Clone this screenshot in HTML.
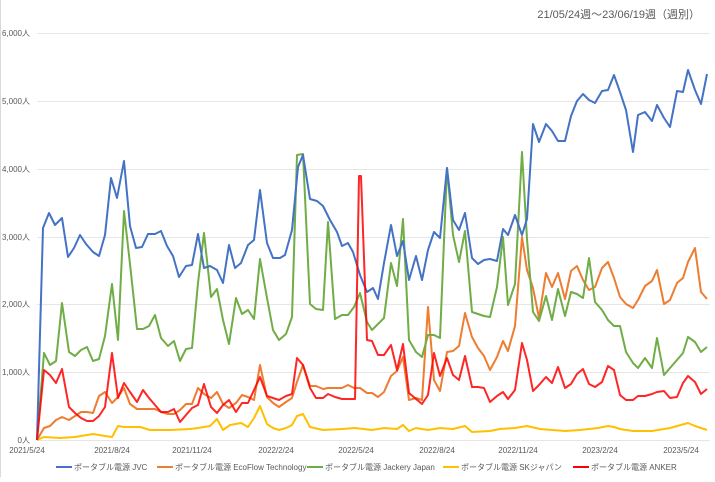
<!DOCTYPE html>
<html><head><meta charset="utf-8"><style>
body{margin:0;background:#fff;}
svg text{font-family:"Liberation Sans","Noto Sans CJK JP",sans-serif;fill:#595959;}
</style></head><body>
<svg width="715" height="477" viewBox="0 0 715 477" xmlns="http://www.w3.org/2000/svg">
<rect x="0" y="0" width="715" height="477" fill="#fff"/>
<line x1="0.5" y1="0" x2="0.5" y2="477" stroke="#d9d9d9"/>
<text x="700" y="18" font-size="11" text-anchor="end">21/05/24週～23/06/19週（週別）</text>
<g stroke="#e6e6e6" stroke-width="1">
<line x1="37" x2="710" y1="33.5" y2="33.5"/><line x1="37" x2="710" y1="101.5" y2="101.5"/>
<line x1="37" x2="710" y1="169.5" y2="169.5"/><line x1="37" x2="710" y1="237.5" y2="237.5"/>
<line x1="37" x2="710" y1="304.5" y2="304.5"/><line x1="37" x2="710" y1="372.5" y2="372.5"/>
<line x1="37" x2="710" y1="440.5" y2="440.5"/>
</g>
<g font-size="8" text-anchor="end">
<text x="30" y="36">6,000人</text><text x="30" y="104">5,000人</text><text x="30" y="172">4,000人</text>
<text x="30" y="240">3,000人</text><text x="30" y="307">2,000人</text><text x="30" y="375">1,000人</text><text x="30" y="443">0人</text>
</g>
<g font-size="8" text-anchor="middle">
<text x="27" y="453">2021/5/24</text><text x="112" y="453">2021/8/24</text><text x="192" y="453">2021/11/24</text>
<text x="276" y="453">2022/2/24</text><text x="356" y="453">2022/5/24</text><text x="437" y="453">2022/8/24</text>
<text x="518" y="453">2022/11/24</text><text x="600" y="453">2023/2/24</text><text x="681" y="453">2023/5/24</text>
</g>
<g fill="none" stroke-width="2" stroke-linejoin="round">
<polyline stroke="#FFC000" points="37,440 44,437 60,438 75,437 93,434 105,436 112,437 118,426 124,427 140,427 150,430 170,430 190,429 198,428 210,426 217,419 223,430 230,425 241,423 248,427 254,418 260,406 267,424 273,428 279,430 286,428 292,425 297,416 303,414 310,427 323,430 342,429 355,428 372,430 384,428 397,429 403,425 409,431 416,428 428,430 440,428 453,429 465,426 472,432 490,431 500,429 515,428 527,426 540,429 565,431 580,430 598,428 608,426 614,427 620,429 633,431 652,431 670,428 688,423 695,426 707,430"/>
<polyline stroke="#ED7D31" points="37,440 44,428 50,426 56,420 62,417 69,420 75,416 81,412 87,412 93,413 99,396 105,392 112,403 118,397 124,388 130,404 137,409 143,409 149,409 155,409 161,412 168,414 174,414 180,410 186,404 192,404 198,388 204,394 211,398 217,392 223,404 229,408 236,403 242,395 248,397 254,400 260,365 267,397 273,403 279,407 286,402 292,398 297,382 303,365 310,386 316,386 323,389 328,388 335,388 342,388 348,385 354,388 360,388 367,393 372,393 378,397 384,392 391,376 397,371 403,357 409,400 416,398 422,400 428,307 434,380 440,391 447,352 453,351 459,346 465,313 472,337 478,348 484,356 490,370 497,357 503,341 508,351 515,326 522,237 527,270 533,288 539,318 546,273 552,287 558,273 565,299 571,271 577,266 583,280 589,290 595,287 602,268 608,262 614,278 620,297 626,304 633,308 638,300 645,286 652,281 657,270 664,304 670,300 677,283 683,278 688,262 695,248 701,292 707,299"/>
<polyline stroke="#70AD47" points="37,440 44,353 50,365 56,361 62,303 69,352 75,356 81,350 87,347 93,361 99,359 105,336 112,284 118,340 124,211 130,264 137,329 143,329 149,326 155,315 161,338 168,346 174,341 180,361 186,349 192,348 198,283 204,233 211,297 217,289 223,320 229,344 236,298 242,314 248,310 254,319 260,259 267,298 273,330 279,340 286,334 292,317 297,155 303,154 310,304 316,309 323,310 328,222 335,319 342,315 348,315 354,307 360,293 367,322 372,330 378,324 384,318 391,263 397,286 403,219 409,340 416,352 422,357 428,335 434,335 440,338 447,168 453,235 459,262 465,231 472,312 478,314 484,316 490,317 497,287 503,237 508,305 515,284 522,152 527,239 533,312 539,321 546,296 552,320 558,289 565,316 571,292 577,294 583,298 589,258 595,302 602,310 608,320 614,326 620,326 626,352 633,363 638,368 645,358 652,368 657,338 664,375 670,368 677,360 683,353 688,337 695,342 701,352 707,347"/>
<polyline stroke="#4472C4" points="37,440 43,228 49,213 55,225 62,218 68,257 74,248 80,235 86,244 93,252 99,256 105,235 111,178 117,198 124,161 130,226 136,248 142,247 148,234 155,234 161,231 167,246 173,256 179,277 186,266 192,265 198,234 204,268 210,266 217,270 223,283 229,245 235,268 241,263 248,245 254,240 260,190 267,243 273,258 280,258 285,255 292,230 298,167 303,155 310,199 317,201 323,206 330,220 337,232 342,246 348,243 353,252 360,275 367,292 373,288 378,299 384,263 391,225 397,256 403,241 409,280 416,256 422,280 428,250 434,232 440,238 447,168 453,220 459,230 465,213 472,258 478,264 484,260 490,259 497,261 503,229 508,235 515,215 522,235 527,219 533,124 539,142 546,124 552,131 558,141 565,141 571,116 577,101 583,94 589,100 595,103 602,91 608,90 614,75 620,92 626,110 633,152 638,115 645,112 652,121 657,105 664,118 670,127 677,91 683,92 688,70 695,90 701,104 707,74"/>
<polyline stroke="#FF0000" stroke-opacity="0.85" points="37,440 44,370 50,375 56,383 62,369 69,407 75,413 81,418 87,421 93,421 99,416 105,407 112,353 118,398 124,383 130,392 137,402 143,390 149,398 155,405 161,412 168,412 174,409 180,422 186,415 192,408 198,405 204,384 211,407 217,413 223,405 229,400 236,412 242,403 248,403 254,390 260,377 267,396 273,398 279,400 286,396 292,394 297,358 303,365 310,388 316,398 323,398 328,394 335,397 342,399 348,399 355,399 359,176 361,176 367,340 372,341 378,355 384,355 391,345 397,370 403,344 409,393 416,399 422,404 428,395 434,353 440,376 447,358 453,375 459,380 465,356 472,387 478,387 484,388 490,402 497,396 503,392 508,399 515,390 522,343 527,360 533,391 539,385 546,377 552,383 558,367 565,388 571,384 577,374 583,369 589,384 595,387 602,382 608,366 614,370 620,395 626,400 633,400 638,396 645,396 652,394 657,392 664,391 670,398 677,397 683,383 688,376 695,382 701,394 707,389"/>
</g>
<g font-size="8">
<line x1="56" x2="72" y1="467" y2="467" stroke="#4472C4" stroke-width="2"/><text x="74" y="470">ポータブル電源 JVC</text>
<line x1="157" x2="173" y1="467" y2="467" stroke="#ED7D31" stroke-width="2"/><text x="175" y="470">ポータブル電源 EcoFlow Technology</text>
<line x1="307" x2="323" y1="467" y2="467" stroke="#70AD47" stroke-width="2"/><text x="325" y="470">ポータブル電源 Jackery Japan</text>
<line x1="443" x2="459" y1="467" y2="467" stroke="#FFC000" stroke-width="2"/><text x="461" y="470">ポータブル電源 SKジャパン</text>
<line x1="573" x2="589" y1="467" y2="467" stroke="#FF0000" stroke-width="2"/><text x="591" y="470">ポータブル電源 ANKER</text>
</g>
</svg>
</body></html>
